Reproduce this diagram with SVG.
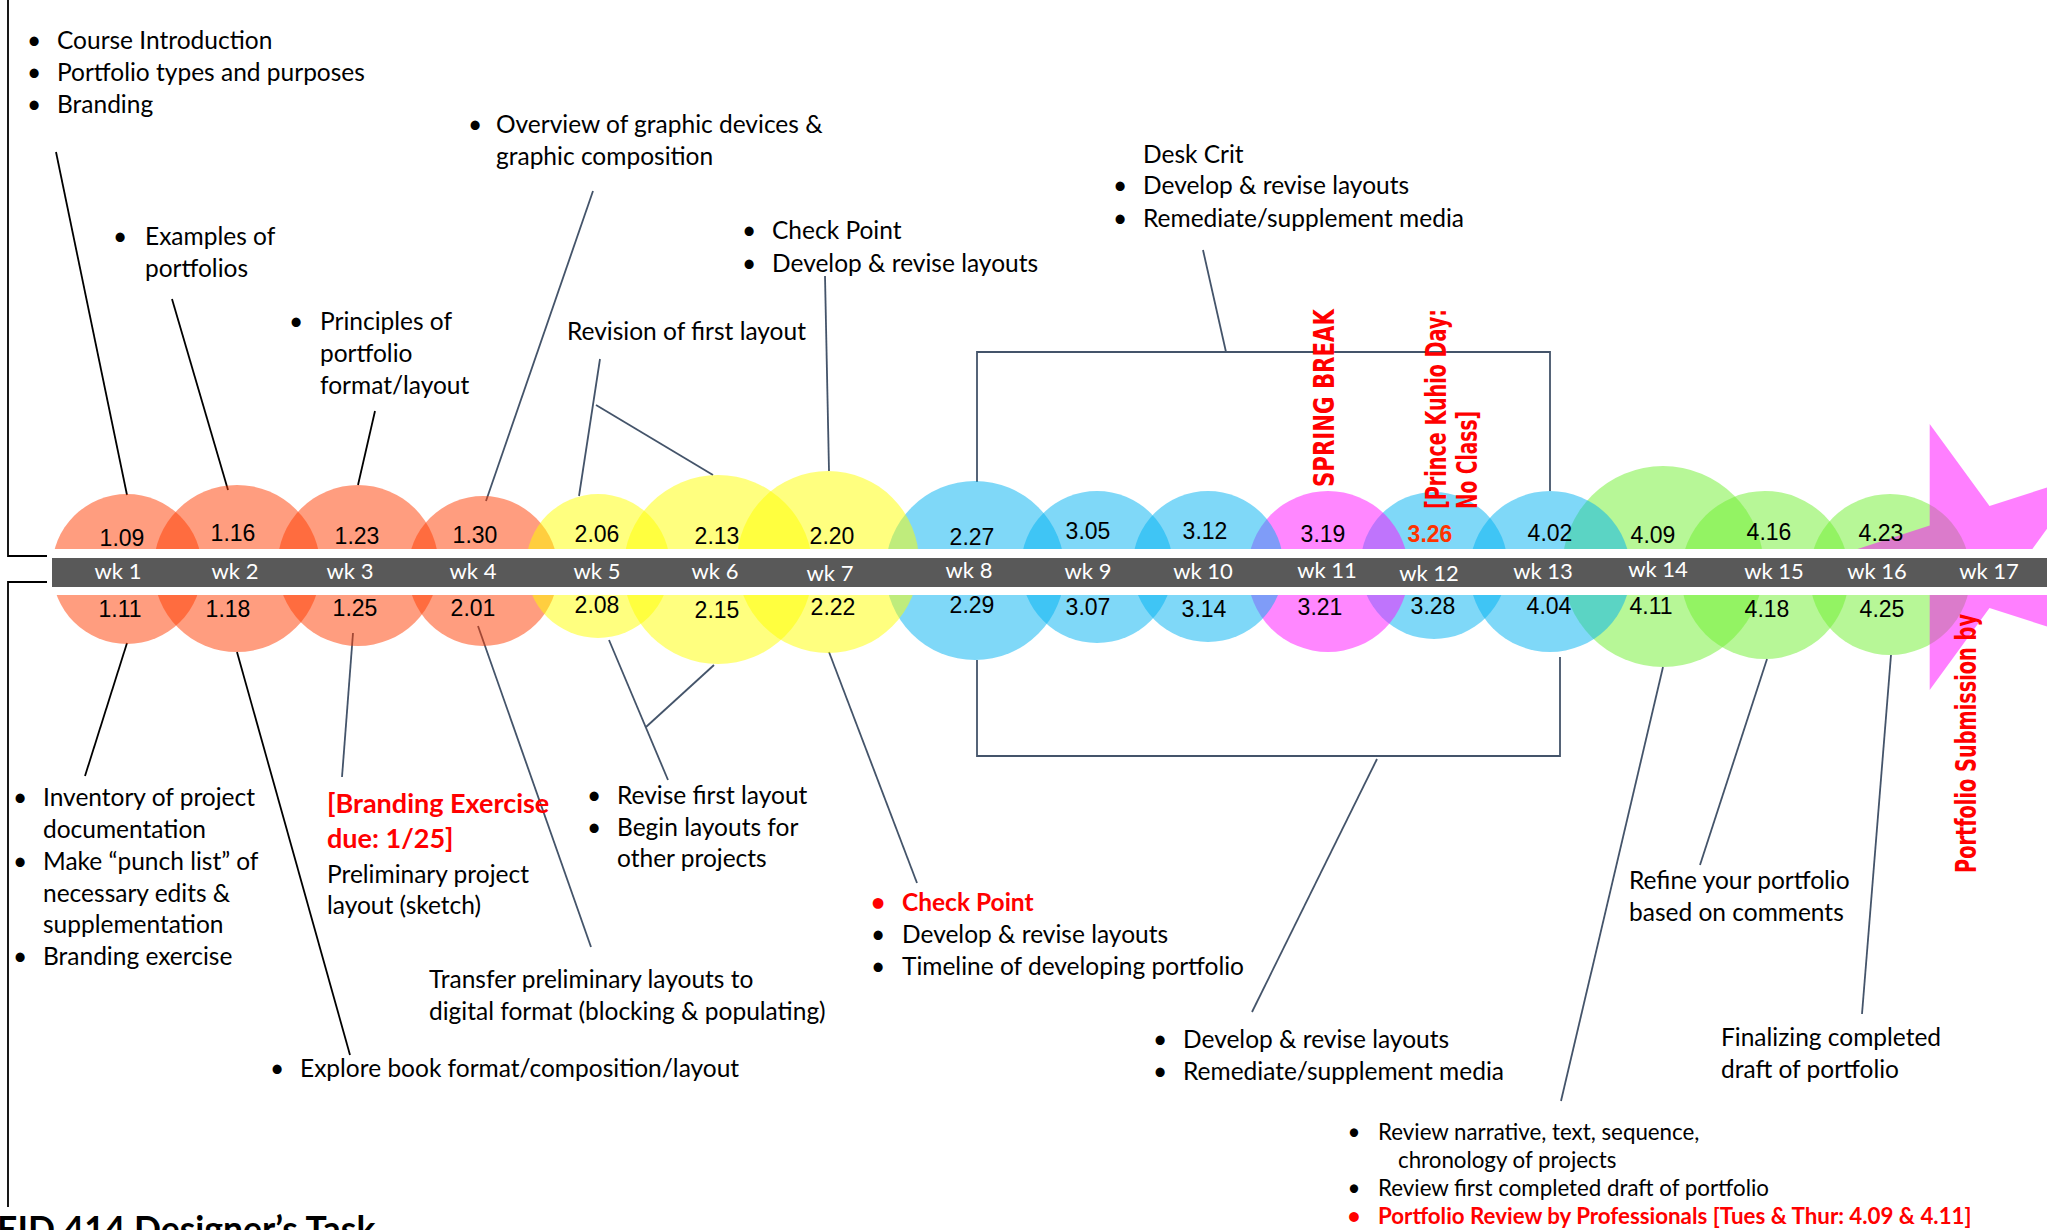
<svg xmlns="http://www.w3.org/2000/svg" width="2047" height="1230" viewBox="0 0 2047 1230">
<style>
.t{font-family:Lato,"Open Sans",sans-serif;font-size:24.5px;fill:#000}
.b{text-anchor:middle}
.s{font-size:22.3px}
.r{fill:#FF0000;font-weight:bold}
.big{font-size:27px}
.d{font-family:"Liberation Sans",Arial,sans-serif;font-size:23px;text-anchor:middle;fill:#000}
.w{font-family:Lato,"Open Sans",sans-serif;font-size:22px;text-anchor:middle;fill:#fff}
.v{font-family:"DejaVu Sans",Verdana,sans-serif;font-weight:bold;font-size:29px;fill:#FF0000}
.k{stroke:#000;stroke-width:1.8;fill:none}
.g{stroke:#44546A;stroke-width:1.8;fill:none}
.or{fill:#FF3B00;fill-opacity:.5}
.ye{fill:#FFFF00;fill-opacity:.5}
.bl{fill:#00B1F1;fill-opacity:.5}
.mg{fill:#FF10FF;fill-opacity:.5}
.gr{fill:#70F030;fill-opacity:.5}
</style>
<rect width="2047" height="1230" fill="#fff"/>
<g id="connectors">
<path class="k" d="M8,0V556H47M47,582H8V1207"/>
<line class="k" x1="56" y1="152" x2="127" y2="495"/>
<line class="k" x1="172" y1="299" x2="228" y2="490"/>
<line class="k" x1="375" y1="411" x2="358" y2="485"/>
<line class="k" x1="127" y1="643" x2="85" y2="776"/>
<line class="k" x1="237" y1="652" x2="350" y2="1055"/>
<line class="g" x1="593" y1="191" x2="486" y2="501"/>
<line class="g" x1="600" y1="359" x2="579" y2="496"/>
<line class="g" x1="596" y1="405" x2="713" y2="475"/>
<line class="g" x1="825" y1="276" x2="829" y2="471"/>
<line class="g" x1="1203" y1="250" x2="1226" y2="352"/>
<path class="g" d="M977,482V352H1550V491"/>
<line class="g" x1="353" y1="633" x2="342" y2="777"/>
<line class="g" x1="478" y1="626" x2="591" y2="947"/>
<line class="g" x1="609" y1="640" x2="668" y2="780"/>
<line class="g" x1="646" y1="727" x2="714" y2="665"/>
<line class="g" x1="829" y1="652" x2="917" y2="883"/>
<path class="g" d="M977,660V756H1560V657"/>
<line class="g" x1="1377" y1="759" x2="1252" y2="1012"/>
<line class="g" x1="1663" y1="667" x2="1561" y2="1101"/>
<line class="g" x1="1767" y1="659" x2="1700" y2="865"/>
<line class="g" x1="1891" y1="655" x2="1862" y2="1014"/>
</g>
<g id="weeks">
<circle id="c1" class="or" cx="127" cy="569" r="75"/>
<circle id="c2" class="or" cx="237" cy="568.5" r="83.5"/>
<circle id="c3" class="or" cx="358" cy="565.5" r="80.5"/>
<circle id="c4" class="or" cx="483" cy="571" r="75"/>
<circle id="c16" class="gr" cx="1890" cy="574.5" r="80.5"/>
<circle id="c15" class="gr" cx="1765" cy="575" r="84"/>
<circle id="c14" class="gr" cx="1663" cy="566.5" r="100.5"/>
<circle id="c13" class="bl" cx="1550" cy="571.5" r="80.5"/>
<circle id="c12" class="bl" cx="1434" cy="565.5" r="73.5"/>
<circle id="c11" class="mg" cx="1328" cy="571.5" r="80.5"/>
<circle id="c10" class="bl" cx="1208" cy="566.5" r="75.5"/>
<circle id="c9" class="bl" cx="1097" cy="567" r="76"/>
<circle id="c8" class="bl" cx="975" cy="570.5" r="89.5"/>
<circle id="c7" class="ye" cx="828" cy="562" r="91"/>
<circle id="c6" class="ye" cx="718" cy="569.5" r="94.5"/>
<circle id="c5" class="ye" cx="598" cy="566" r="72"/>
</g>
<polygon id="star" fill="#FF00FF" fill-opacity=".5" points="1833,557 1929.7,525.6 1929.7,423.9 1989.5,506.1 2086.3,474.7 2026.5,557 2086.3,639.3 1989.5,607.9 1929.7,690.1 1929.7,588.4"/>
<g id="bar">
<rect x="52" y="549" width="1995" height="46" fill="#fff"/>
<rect x="52" y="558" width="1995" height="29" fill="#595959"/>
<text class="w" x="118" y="579">wk 1</text>
<text class="w" x="235" y="579">wk 2</text>
<text class="w" x="350" y="579">wk 3</text>
<text class="w" x="473" y="579">wk 4</text>
<text class="w" x="597" y="579">wk 5</text>
<text class="w" x="715" y="579">wk 6</text>
<text class="w" x="830" y="581">wk 7</text>
<text class="w" x="969" y="578">wk 8</text>
<text class="w" x="1088" y="579">wk 9</text>
<text class="w" x="1203" y="579">wk 10</text>
<text class="w" x="1327" y="578">wk 11</text>
<text class="w" x="1429" y="581">wk 12</text>
<text class="w" x="1543" y="579">wk 13</text>
<text class="w" x="1658" y="577">wk 14</text>
<text class="w" x="1774" y="579">wk 15</text>
<text class="w" x="1877" y="579">wk 16</text>
<text class="w" x="1989" y="579">wk 17</text>
</g>
<g id="dates">
<text class="d" x="122" y="546">1.09</text>
<text class="d" x="233" y="541">1.16</text>
<text class="d" x="357" y="544">1.23</text>
<text class="d" x="475" y="543">1.30</text>
<text class="d" x="597" y="542">2.06</text>
<text class="d" x="717" y="544">2.13</text>
<text class="d" x="832" y="544">2.20</text>
<text class="d" x="972" y="545">2.27</text>
<text class="d" x="1088" y="539">3.05</text>
<text class="d" x="1205" y="539">3.12</text>
<text class="d" x="1323" y="542">3.19</text>
<text class="d" x="1430" y="542" font-weight="bold" style="fill:#FF3300">3.26</text>
<text class="d" x="1550" y="541">4.02</text>
<text class="d" x="1653" y="543">4.09</text>
<text class="d" x="1769" y="540">4.16</text>
<text class="d" x="1881" y="541">4.23</text>
<text class="d" x="120" y="617">1.11</text>
<text class="d" x="228" y="617">1.18</text>
<text class="d" x="355" y="616">1.25</text>
<text class="d" x="473" y="616">2.01</text>
<text class="d" x="597" y="613">2.08</text>
<text class="d" x="717" y="618">2.15</text>
<text class="d" x="833" y="615">2.22</text>
<text class="d" x="972" y="613">2.29</text>
<text class="d" x="1088" y="615">3.07</text>
<text class="d" x="1204" y="617">3.14</text>
<text class="d" x="1320" y="615">3.21</text>
<text class="d" x="1433" y="614">3.28</text>
<text class="d" x="1549" y="614">4.04</text>
<text class="d" x="1651" y="614">4.11</text>
<text class="d" x="1767" y="617">4.18</text>
<text class="d" x="1882" y="617">4.25</text>
</g>
<g id="vertical-notes">
<text class="v" transform="translate(1334,487) rotate(-90)" textLength="178" lengthAdjust="spacingAndGlyphs">SPRING BREAK</text>
<text class="v" transform="translate(1446,509) rotate(-90)" textLength="200" lengthAdjust="spacingAndGlyphs">[Prince Kuhio Day:</text>
<text class="v" transform="translate(1477,509) rotate(-90)" textLength="98" lengthAdjust="spacingAndGlyphs">No Class]</text>
<text class="v" transform="translate(1976,873) rotate(-90)" textLength="259" lengthAdjust="spacingAndGlyphs">Portfolio Submission by</text>
</g>
<g id="note-wk1-top">
<text class="t b" x="34" y="49">•</text><text class="t" x="57" y="49">Course Introduction</text>
<text class="t b" x="34" y="81">•</text><text class="t" x="57" y="81">Portfolio types and purposes</text>
<text class="t b" x="34" y="113">•</text><text class="t" x="57" y="113">Branding</text>
</g>
<g id="note-wk2-top">
<text class="t b" x="120" y="245">•</text><text class="t" x="145" y="245">Examples of</text>
<text class="t" x="145" y="277">portfolios</text>
</g>
<g id="note-wk3-top">
<text class="t b" x="296" y="330">•</text><text class="t" x="320" y="330">Principles of</text>
<text class="t" x="320" y="362">portfolio</text>
<text class="t" x="320" y="394">format/layout</text>
</g>
<g id="note-wk4-top">
<text class="t b" x="475" y="133">•</text><text class="t" x="496" y="133">Overview of graphic devices &amp;</text>
<text class="t" x="496" y="165">graphic composition</text>
</g>
<g id="note-wk5-top">
<text class="t" x="567" y="340">Revision of first layout</text>
</g>
<g id="note-wk7-top">
<text class="t b" x="749" y="239">•</text><text class="t" x="772" y="239">Check Point</text>
<text class="t b" x="749" y="272">•</text><text class="t" x="772" y="272">Develop &amp; revise layouts</text>
</g>
<g id="note-wk8-top">
<text class="t" x="1143" y="163">Desk Crit</text>
<text class="t b" x="1120" y="194">•</text><text class="t" x="1143" y="194">Develop &amp; revise layouts</text>
<text class="t b" x="1120" y="227">•</text><text class="t" x="1143" y="227">Remediate/supplement media</text>
</g>
<g id="note-wk1-bottom">
<text class="t b" x="20" y="806">•</text><text class="t" x="43" y="806">Inventory of project</text>
<text class="t" x="43" y="838">documentation</text>
<text class="t b" x="20" y="870">•</text><text class="t" x="43" y="870">Make “punch list” of</text>
<text class="t" x="43" y="902">necessary edits &amp;</text>
<text class="t" x="43" y="933">supplementation</text>
<text class="t b" x="20" y="965">•</text><text class="t" x="43" y="965">Branding exercise</text>
</g>
<g id="note-wk3-bottom">
<text class="t r big" x="327" y="813">[Branding Exercise</text>
<text class="t r big" x="327" y="848">due: 1/25]</text>
<text class="t" x="327" y="883">Preliminary project</text>
<text class="t" x="327" y="914">layout (sketch)</text>
</g>
<g id="note-wk5-bottom">
<text class="t b" x="594" y="804">•</text><text class="t" x="617" y="804">Revise first layout</text>
<text class="t b" x="594" y="836">•</text><text class="t" x="617" y="836">Begin layouts for</text>
<text class="t" x="617" y="867">other projects</text>
</g>
<g id="note-wk4-bottom">
<text class="t" x="429" y="988">Transfer preliminary layouts to</text>
<text class="t" x="429" y="1020">digital format (blocking &amp; populating)</text>
</g>
<g id="note-wk2-bottom">
<text class="t b" x="277" y="1077">•</text><text class="t" x="300" y="1077">Explore book format/composition/layout</text>
</g>
<g id="note-wk7-bottom">
<text class="t b r" x="878" y="911">•</text><text class="t r" x="902" y="911">Check Point</text>
<text class="t b" x="878" y="943">•</text><text class="t" x="902" y="943">Develop &amp; revise layouts</text>
<text class="t b" x="878" y="975">•</text><text class="t" x="902" y="975">Timeline of developing portfolio</text>
</g>
<g id="note-wk8-bottom">
<text class="t b" x="1160" y="1048">•</text><text class="t" x="1183" y="1048">Develop &amp; revise layouts</text>
<text class="t b" x="1160" y="1080">•</text><text class="t" x="1183" y="1080">Remediate/supplement media</text>
</g>
<g id="note-wk15-bottom">
<text class="t" x="1629" y="889">Refine your portfolio</text>
<text class="t" x="1629" y="921">based on comments</text>
</g>
<g id="note-wk16-bottom">
<text class="t" x="1721" y="1046">Finalizing completed</text>
<text class="t" x="1721" y="1078">draft of portfolio</text>
</g>
<g id="note-wk14-bottom">
<text class="t s b" x="1354" y="1140">•</text><text class="t s" x="1378" y="1140">Review narrative, text, sequence,</text>
<text class="t s" x="1398" y="1168">chronology of projects</text>
<text class="t s b" x="1354" y="1196">•</text><text class="t s" x="1378" y="1196">Review first completed draft of portfolio</text>
<text class="t s b r" x="1354" y="1224">•</text><text class="t s r" x="1378" y="1224">Portfolio Review by Professionals [Tues &amp; Thur: 4.09 &amp; 4.11]</text>
</g>
<text id="title" x="-3" y="1242" style="font-family:Lato,'Open Sans',sans-serif;font-weight:bold;font-size:35.5px" fill="#000">EID 414 Designer’s Task</text>
</svg>
